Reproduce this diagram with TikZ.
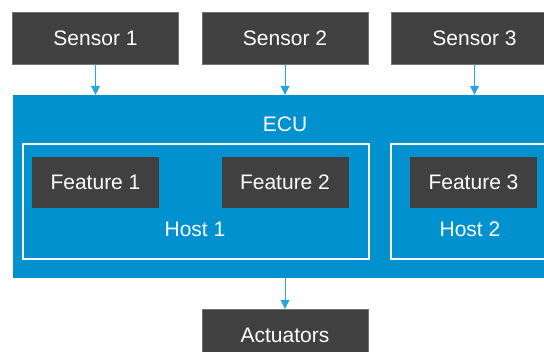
\documentclass[tikz,border=0pt]{standalone}
\usepackage{fontspec}
\setmainfont{Liberation Sans}
\usetikzlibrary{arrows.meta}
\definecolor{boxgrey}{HTML}{404040}
\definecolor{ecublue}{HTML}{0091CE}
\definecolor{linkblue}{HTML}{2AA4DC}
\begin{document}
\begin{tikzpicture}[x=1pt,y=1pt,
  darkbox/.style={rectangle,fill=boxgrey,draw=black!55,line width=0.4pt,
    minimum width=166pt,minimum height=52pt,inner sep=0pt,
    text=white,font=\fontsize{21}{24}\selectfont},
  featbox/.style={darkbox,minimum width=127pt,minimum height=51pt,draw=none},
  hostbox/.style={rectangle,draw=white,line width=2pt,inner sep=0pt},
  lbl/.style={text=white,font=\fontsize{21}{24}\selectfont,inner sep=0pt},
  link/.style={draw=linkblue,line width=1pt,
    -{Triangle[width=9pt,length=9pt]},shorten >=0pt}]
\useasboundingbox (0,0) rectangle (544,352);
\clip (0,0) rectangle (544,352);

% sensors
\node[darkbox] (s1) at (95.5,314) {Sensor 1};
\node[darkbox] (s2) at (285,314) {Sensor 2};
\node[darkbox] (s3) at (474.5,314) {Sensor 3};

% ECU with its two hosts
\node[rectangle,fill=ecublue,minimum width=547pt,minimum height=183pt,inner sep=0pt]
  (ecu) at (286.5,165.5) {};
\node[lbl] (ecul) at (285,228) {ECU};
\node[hostbox,minimum width=346pt,minimum height=115pt] (h1) at (196,150.5) {};
\node[hostbox,minimum width=170pt,minimum height=115pt] (h2) at (476,150.5) {};
\node[featbox] (f1) at (95.5,169.5) {Feature 1};
\node[featbox] (f2) at (285,169.5) {Feature 2};
\node[featbox] (f3) at (473.5,169.5) {Feature 3};
\node[lbl] (h1l) at (195,123) {Host 1};
\node[lbl] (h2l) at (470,123) {Host 2};

% actuators
\node[darkbox] (act) at (285,17) {Actuators};

% connections
\draw[link] (s1.south) -- (s1.south |- ecu.north);
\draw[link] (s2.south) -- (s2.south |- ecu.north);
\draw[link] (s3.south) -- (s3.south |- ecu.north);
\draw[link] (ecu.south -| act.north) -- (act.north);
\end{tikzpicture}
\end{document}
